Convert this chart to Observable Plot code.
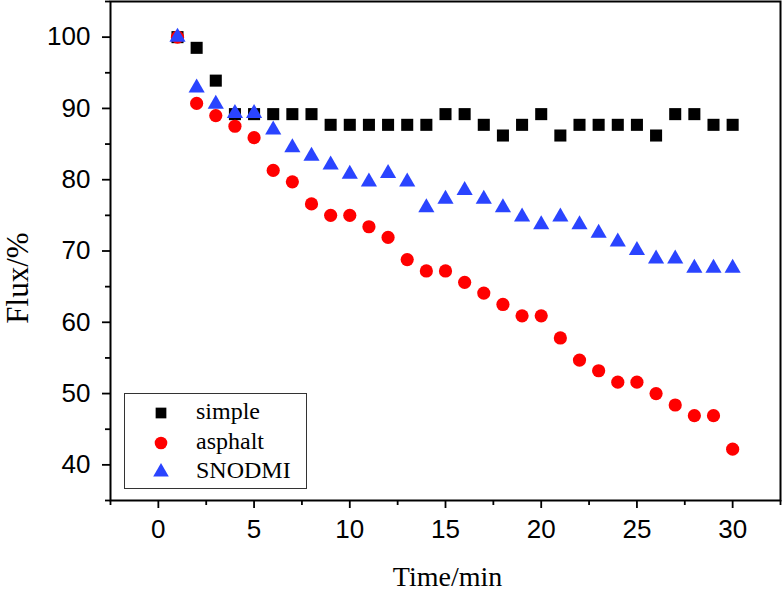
<!DOCTYPE html>
<html>
<head>
<meta charset="utf-8">
<script src="https://cdn.jsdelivr.net/npm/d3@7"></script>
<script src="https://cdn.jsdelivr.net/npm/@observablehq/plot@0.6"></script>
<style>
  html, body { margin: 0; padding: 0; background: #fff; }
  #wrap { position: relative; width: 783px; height: 593px; }
  #legend {
    position: absolute; left: 124px; top: 393px; width: 183px; height: 96px;
    border: 1px solid #333; box-sizing: border-box; background: #fff;
    font-family: "Liberation Serif", "Times New Roman", serif; font-size: 24px;
  }
  .row { position: absolute; left: 0; height: 30px; display: flex; align-items: center; }
  .row svg { position: absolute; left: 26px; }
  .row span { position: absolute; left: 71px; white-space: nowrap; line-height: 30px; top: -2px; }
</style>
</head>
<body>
<div id="wrap"></div>
<script>
const times = d3.range(1, 31);
const simple = [100, 98.5, 93.9, 89.2, 89.2, 89.2, 89.2, 89.2, 87.7, 87.7, 87.7, 87.7, 87.7, 87.7, 89.2, 89.2, 87.7, 86.2, 87.7, 89.2, 86.2, 87.7, 87.7, 87.7, 87.7, 86.2, 89.2, 89.2, 87.7, 87.7];
const asphalt = [100, 90.7, 89.0, 87.5, 85.9, 81.3, 79.7, 76.6, 75.0, 75.0, 73.4, 71.9, 68.8, 67.2, 67.2, 65.6, 64.1, 62.5, 60.9, 60.9, 57.8, 54.7, 53.2, 51.6, 51.6, 50.0, 48.4, 46.9, 46.9, 42.2];
const snodmi = [100, 92.9, 90.6, 89.3, 89.3, 87.0, 84.5, 83.3, 82.1, 80.8, 79.7, 80.9, 79.7, 76.1, 77.3, 78.5, 77.3, 76.1, 74.8, 73.7, 74.8, 73.7, 72.5, 71.3, 70.1, 68.9, 68.9, 67.6, 67.6, 67.6];
const seriesNames = ["simple", "asphalt", "SNODMI"];
const seriesColors = ["#000000", "#ff0000", "#2a44ff"];
const seriesSymbols = ["square", "circle", "triangle"];
const seriesR = [6.8, 6.6, 6.0];
const xTicks = [0, 5, 10, 15, 20, 25, 30];
const xMinor = [-2.5, 2.5, 7.5, 12.5, 17.5, 22.5, 27.5, 32.5];
const yTicks = [40, 50, 60, 70, 80, 90, 100];
const yMinor = [35, 45, 55, 65, 75, 85, 95, 105];
const xLabel = "Time/min";
const yLabel = "Flux/%";

const allSeries = [simple, asphalt, snodmi];
const dotMarks = allSeries.map((vals, i) =>
  Plot.dot(times.map((t, j) => ({t, v: vals[j]})), {
    x: "t", y: "v", symbol: () => seriesSymbols[i], r: seriesR[i],
    fill: seriesColors[i], stroke: "none"
  })
);

const plot = Plot.plot({
  width: 783, height: 593,
  marginLeft: 110, marginTop: 1, marginRight: 3, marginBottom: 93,
  style: { fontFamily: "'Liberation Sans', Arial, sans-serif", fontSize: "26px", color: "#000", background: "#fff" },
  x: { domain: [-2.5, 32.5] },
  y: { domain: [35, 105] },
  symbol: { type: "identity" },
  marks: [
    Plot.axisX({ ticks: xMinor, tickSize: 5, tickFormat: () => "", label: null, strokeWidth: 1.8 }),
    Plot.axisX({ ticks: xTicks, tickSize: 8, tickPadding: 11, label: null, strokeWidth: 1.8, fontSize: 26 }),
    Plot.axisY({ ticks: yMinor, tickSize: 5, tickFormat: () => "", label: null, strokeWidth: 1.8 }),
    Plot.axisY({ ticks: yTicks, tickSize: 8, tickPadding: 12, label: null, strokeWidth: 1.8, fontSize: 26 }),
    ...dotMarks,
    Plot.frame({ stroke: "#000", strokeWidth: 2 }),
    Plot.text([yLabel], { frameAnchor: "left", dx: -92, dy: 27, rotate: -90, text: d => d,
      textAnchor: "middle", lineAnchor: "middle",
      fontFamily: "'Liberation Serif', 'Times New Roman', serif", fontSize: 31, fill: "#000" }),
    Plot.text([xLabel], { frameAnchor: "bottom", dx: 2, dy: 77, text: d => d,
      textAnchor: "middle", lineAnchor: "middle",
      fontFamily: "'Liberation Serif', 'Times New Roman', serif", fontSize: 28, fill: "#000" })
  ]
});

const wrap = document.getElementById("wrap");
wrap.appendChild(plot);

// legend overlay
const legend = document.createElement("div");
legend.id = "legend";
const rowTops = [4, 34, 63];
seriesNames.forEach((name, i) => {
  const row = document.createElement("div");
  row.className = "row";
  row.style.top = rowTops[i] + "px";
  const size = 20;
  const sym = d3.symbol(
    i === 0 ? d3.symbolSquare : i === 1 ? d3.symbolCircle : d3.symbolTriangle,
    [115, 125, 105][i]
  )();
  row.innerHTML = `<svg width="${size}" height="${size}" viewBox="${-size/2} ${-size/2} ${size} ${size}" style="top:5px"><path d="${sym}" fill="${seriesColors[i]}"/></svg><span>${name}</span>`;
  legend.appendChild(row);
});
wrap.appendChild(legend);
</script>
</body>
</html>
